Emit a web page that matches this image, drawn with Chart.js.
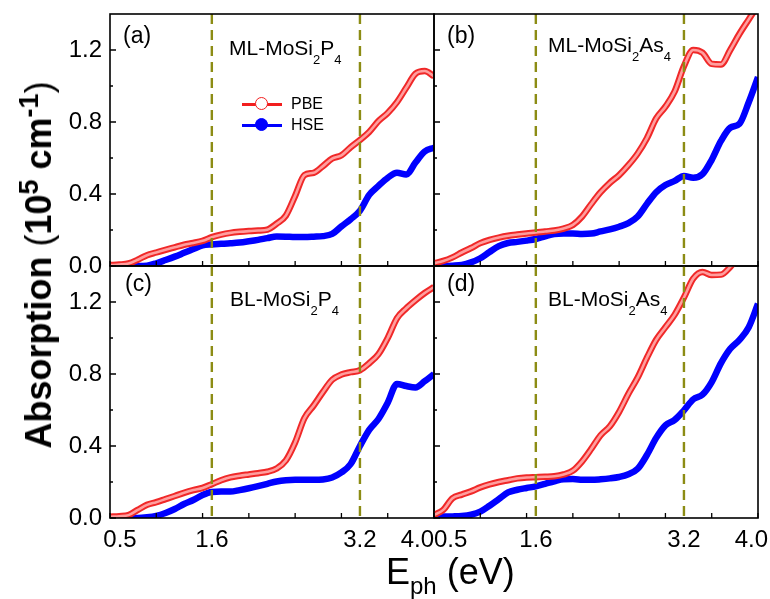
<!DOCTYPE html>
<html>
<head>
<meta charset="utf-8">
<script src="https://cdn.jsdelivr.net/npm/chart.js@4.4.1/dist/chart.umd.min.js"></script>
<style>
  body { margin: 0; background: #fff; }
  #wrap { position: relative; width: 770px; height: 599px; overflow: hidden;
          font-family: "Liberation Sans", Arial, sans-serif; color: #000; }
  #wrap canvas { position: absolute; left: 0; top: 0; }
  .t { position: absolute; line-height: 1; white-space: nowrap; }
  .tag { font-size: 23px; }
  .name { font-size: 21px; }
  .name sub { font-size: 13px; vertical-align: -9px; line-height: 0; }
  .key { position: absolute; left: 242px; height: 16px; display: flex; align-items: center; font-size: 16px; }
  .sym { position: relative; width: 40px; height: 16px; margin-right: 9px; }
  .sym::before { content: ''; position: absolute; left: 0; right: 0; top: 7px; height: 2.5px; background: var(--c); }
  .sym::after { content: ''; position: absolute; left: 13px; top: 1px; width: 11px; height: 11px;
                border: 1.5px solid var(--c); border-radius: 50%; background: var(--f); }
  #ytitle { left: 39px; top: 265px; transform: translate(-50%, -50%) rotate(-90deg);
            font-size: 36px; font-weight: bold; }
  #ytitle sup { font-size: 27px; vertical-align: 13px; line-height: 0; }
  #ytitle .p { font-weight: normal; }
  #xtitle { left: 386px; top: 554px; font-size: 36px; }
  #xtitle sub { font-size: 24px; vertical-align: -10px; line-height: 0; }
</style>
</head>
<body>
<div id="wrap">
  <canvas id="pa" width="770" height="599"></canvas>
  <canvas id="pb" width="770" height="599"></canvas>
  <canvas id="pc" width="770" height="599"></canvas>
  <canvas id="pd" width="770" height="599"></canvas>

  <div class="t tag" style="left:123px;top:24px">(a)</div>
  <div class="t tag" style="left:447px;top:24px">(b)</div>
  <div class="t tag" style="left:125px;top:272px">(c)</div>
  <div class="t tag" style="left:447px;top:272px">(d)</div>

  <div class="t name" style="left:229px;top:37px">ML-MoSi<sub>2</sub>P<sub>4</sub></div>
  <div class="t name" style="left:548px;top:34px">ML-MoSi<sub>2</sub>As<sub>4</sub></div>
  <div class="t name" style="left:230px;top:288px">BL-MoSi<sub>2</sub>P<sub>4</sub></div>
  <div class="t name" style="left:548px;top:288px">BL-MoSi<sub>2</sub>As<sub>4</sub></div>

  <div class="key" style="top:96px"><i class="sym" style="--c:#f21e1e;--f:#fff"></i><span>PBE</span></div>
  <div class="key" style="top:117px"><i class="sym" style="--c:#0000ff;--f:#0000ff"></i><span>HSE</span></div>

  <div class="t" id="ytitle">Absorption <span class="p">(</span>10<sup>5</sup> cm<sup>-1</sup><span class="p">)</span></div>
  <div class="t" id="xtitle">E<sub>ph</sub> (eV)</div>
</div>

<script>
// photon energy grid (eV)
const energy = [0.5, 0.6, 0.7, 0.8, 0.9, 1.0, 1.1, 1.2, 1.3, 1.4, 1.5, 1.6, 1.7, 1.8, 1.9, 2.0, 2.1, 2.2,
                2.3, 2.4, 2.5, 2.6, 2.7, 2.8, 2.9, 3.0, 3.1, 3.2, 3.3, 3.4, 3.5, 3.6, 3.7, 3.8, 3.9, 4.0];

// absorption, 10^5 cm^-1
const pbeMLP  = [0.005, 0.008, 0.014, 0.035, 0.06, 0.075, 0.09, 0.104, 0.118, 0.128, 0.14, 0.16, 0.174, 0.184, 0.19, 0.194, 0.197, 0.202,
                 0.235, 0.28, 0.39, 0.505, 0.518, 0.555, 0.597, 0.615, 0.66, 0.70, 0.745, 0.805, 0.85, 0.91, 0.99, 1.068, 1.083, 1.054];
const hseMLP  = [0, 0, 0, 0, 0.002, 0.015, 0.033, 0.052, 0.073, 0.094, 0.115, 0.12, 0.123, 0.126, 0.13, 0.137, 0.145, 0.155,
                 0.164, 0.163, 0.161, 0.161, 0.163, 0.166, 0.178, 0.22, 0.26, 0.307, 0.395, 0.445, 0.49, 0.518, 0.508, 0.575, 0.636, 0.657];
const pbeMLAs = [0.015, 0.028, 0.048, 0.075, 0.1, 0.127, 0.145, 0.158, 0.168, 0.175, 0.181, 0.186, 0.192, 0.197, 0.208, 0.228, 0.275, 0.345,
                 0.41, 0.462, 0.505, 0.56, 0.625, 0.71, 0.82, 0.885, 0.97, 1.11, 1.2, 1.185, 1.123, 1.12, 1.2, 1.29, 1.37, 1.45];
const hseMLAs = [0, 0, 0.002, 0.006, 0.02, 0.043, 0.078, 0.11, 0.128, 0.134, 0.141, 0.15, 0.165, 0.178, 0.181, 0.181, 0.178, 0.18,
                 0.192, 0.203, 0.218, 0.238, 0.275, 0.345, 0.41, 0.45, 0.473, 0.5, 0.49, 0.51, 0.59, 0.695, 0.768, 0.79, 0.91, 1.05];
const pbeBLP  = [0.007, 0.01, 0.016, 0.045, 0.073, 0.088, 0.105, 0.122, 0.14, 0.155, 0.167, 0.188, 0.21, 0.226, 0.235, 0.242, 0.249, 0.257,
                 0.275, 0.32, 0.42, 0.555, 0.625, 0.7, 0.768, 0.797, 0.81, 0.821, 0.86, 0.91, 1.0, 1.11, 1.165, 1.21, 1.25, 1.283];
const hseBLP  = [0, 0, 0, 0, 0.004, 0.012, 0.028, 0.05, 0.078, 0.1, 0.128, 0.145, 0.147, 0.147, 0.155, 0.165, 0.177, 0.19,
                 0.203, 0.21, 0.212, 0.212, 0.212, 0.214, 0.225, 0.253, 0.3, 0.4, 0.49, 0.55, 0.64, 0.745, 0.733, 0.725, 0.76, 0.8];
const pbeBLAs = [0.017, 0.045, 0.11, 0.13, 0.148, 0.17, 0.187, 0.2, 0.21, 0.22, 0.225, 0.227, 0.229, 0.232, 0.242, 0.263, 0.315, 0.385,
                 0.46, 0.51, 0.59, 0.69, 0.78, 0.89, 0.99, 1.06, 1.13, 1.225, 1.33, 1.367, 1.35, 1.352, 1.395, 1.46, 1.52, 1.58];
const hseBLAs = [0.007, 0.008, 0.009, 0.011, 0.018, 0.035, 0.068, 0.105, 0.142, 0.157, 0.167, 0.176, 0.19, 0.204, 0.215, 0.216, 0.213, 0.212,
                 0.215, 0.22, 0.228, 0.243, 0.273, 0.35, 0.445, 0.515, 0.545, 0.598, 0.659, 0.685, 0.755, 0.86, 0.94, 0.99, 1.06, 1.19];

// dashed guide lines, tick positions and labels
const guideEnergies = [1.6, 3.2];
const xTickMarks = [0.5, 1.0, 1.5, 2.0, 2.5, 3.0, 3.5, 4.0];
const xTickLabels = [0.5, 1.6, 3.2, 4.0];
const yMajorTicks = [0, 0.4, 0.8, 1.2];
const yMinorTicks = [0.2, 0.6, 1.0];

const FONT = '"Liberation Sans", Arial, sans-serif';

// frame + inward ticks, like the Origin plot
const framePlugin = {
  id: 'frame',
  afterDatasetsDraw(chart) {
    const { ctx, chartArea: a, scales: { x, y } } = chart;
    ctx.save();
    ctx.strokeStyle = '#000';
    ctx.lineWidth = 1.3;
    ctx.beginPath();
    xTickMarks.forEach(v => {
      const px = x.getPixelForValue(v);
      ctx.moveTo(px, a.bottom); ctx.lineTo(px, a.bottom - 5);
    });
    yMajorTicks.forEach(v => {
      const py = y.getPixelForValue(v);
      ctx.moveTo(a.left, py); ctx.lineTo(a.left + 6, py);
    });
    yMinorTicks.forEach(v => {
      const py = y.getPixelForValue(v);
      ctx.moveTo(a.left, py); ctx.lineTo(a.left + 3, py);
    });
    ctx.stroke();
    ctx.lineWidth = 1.6;
    ctx.strokeRect(a.left, a.top, a.right - a.left, a.bottom - a.top);
    ctx.restore();
  }
};

function panel(id, box, pbe, hse, showY, showX, padL, padR) {
  const pts = arr => energy.map((e, i) => ({ x: e, y: arr[i] }));
  const guides = guideEnergies.map(e => ({
    data: [{ x: e, y: 1.4 }, { x: e, y: 0 }],
    borderColor: '#8c8c14', borderWidth: 2.4, borderDash: [10, 6], tension: 0
  }));
  const yW = showY ? 110 : 0;
  const xH = showX ? 40 : 0;

  new Chart(document.getElementById(id), {
    type: 'line',
    data: {
      datasets: [
        ...guides,
        { data: pts(pbe), borderColor: '#ff9e9e', borderWidth: 2.6, cubicInterpolationMode: 'monotone' },
        { data: pts(pbe), borderColor: '#f02828', borderWidth: 6.5, cubicInterpolationMode: 'monotone' },
        { data: pts(hse), borderColor: '#0000ff', borderWidth: 6.5, cubicInterpolationMode: 'monotone' }
      ]
    },
    options: {
      responsive: false,
      animation: false,
      events: [],
      layout: {
        padding: { left: box[0] - yW, top: box[1], right: 770 - box[2], bottom: 599 - box[3] - xH }
      },
      datasets: { line: { clip: 0 } },
      elements: { point: { radius: 0 } },
      plugins: { legend: { display: false }, tooltip: { enabled: false } },
      scales: {
        x: {
          type: 'linear', min: 0.5, max: 4.0,
          afterBuildTicks: s => { s.ticks = xTickLabels.map(v => ({ value: v })); },
          afterFit: s => { s.height = xH; s.paddingLeft = 0; s.paddingRight = 0; },
          grid: { display: false, drawTicks: false },
          border: { display: false },
          ticks: {
            display: showX, autoSkip: false, maxRotation: 0, minRotation: 0, padding: 8,
            color: '#000', font: { family: FONT, size: 24 },
            callback: (v, i, ticks) => {
              let s = v.toFixed(1);
              if (i === 0) s = ' '.repeat(padL) + s;
              if (i === ticks.length - 1) s = s + ' '.repeat(padR);
              return s;
            }
          }
        },
        y: {
          min: 0, max: 1.4,
          afterBuildTicks: s => { s.ticks = yMajorTicks.map(v => ({ value: v })); },
          afterFit: s => { s.width = yW; s.paddingTop = 0; s.paddingBottom = 0; },
          grid: { display: false, drawTicks: false },
          border: { display: false },
          ticks: {
            display: showY, padding: 8,
            color: '#000', font: { family: FONT, size: 24 },
            callback: v => v.toFixed(1)
          }
        }
      }
    },
    plugins: [framePlugin]
  });
}

panel('pa', [110, 14, 434, 266], pbeMLP,  hseMLP,  true,  false, 0, 0);
panel('pb', [434, 14, 758, 266], pbeMLAs, hseMLAs, false, false, 0, 0);
panel('pc', [110, 266, 434, 518], pbeBLP,  hseBLP,  true,  true, 3, 5);
panel('pd', [434, 266, 758, 518], pbeBLAs, hseBLAs, false, true, 5, 2);
</script>
</body>
</html>
